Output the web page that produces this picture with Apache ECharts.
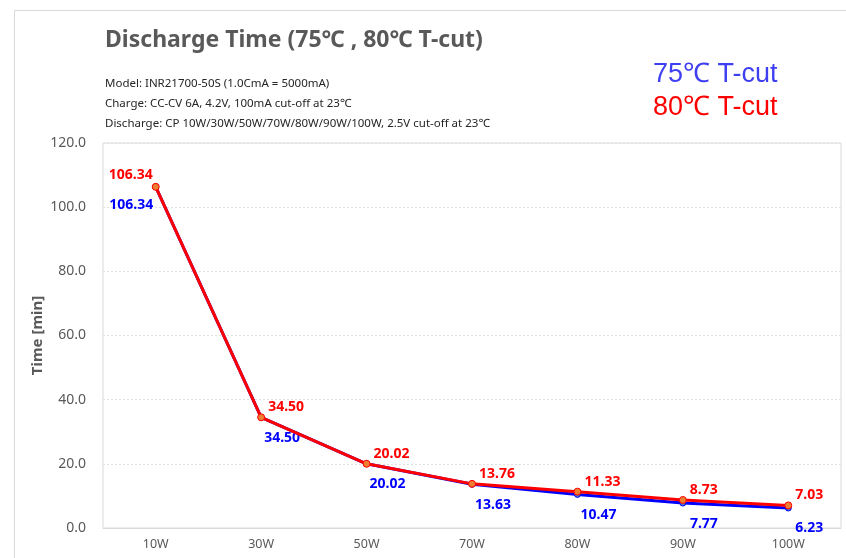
<!DOCTYPE html>
<html><head><meta charset="utf-8">
<script src="https://cdn.jsdelivr.net/npm/echarts@6/dist/echarts.min.js"></script>
<style>html,body{margin:0;padding:0;background:#fff}#c{width:846px;height:558px}</style>
</head><body><div id="c"></div>
<script>
const categories = ['10W','30W','50W','70W','80W','90W','100W'];
const t75 = [106.34, 34.50, 20.02, 13.63, 10.47, 7.77, 6.23];
const t80 = [106.34, 34.50, 20.02, 13.76, 11.33, 8.73, 7.03];
const yTicks = [0, 20, 40, 60, 80, 100, 120];
const titleText = 'Discharge Time (75℃ , 80℃ T-cut)';
const subLines = ['Model: INR21700-50S (1.0CmA = 5000mA)', 'Charge: CC-CV 6A, 4.2V, 100mA cut-off at 23℃', 'Discharge: CP 10W/30W/50W/70W/80W/90W/100W, 2.5V cut-off at 23℃'];
const legendNames = ['75℃ T-cut', '80℃ T-cut'];

const FONT = '"Noto Sans","Noto Sans CJK KR",sans-serif';
const chart = echarts.init(document.getElementById('c'), null, {renderer:'canvas'});

function labelFor(i, isRed){
  if (i === 0) {
    return isRed ? {position:'left', offset:[6,-12]} : {position:'left', offset:[6,18]};
  }
  return isRed ? {position:'right', offset:[-2,-10]} : {position:'bottom', offset:[21,5]};
}
const mkData = (arr, isRed) => arr.map((v,i)=>({value:v, label:labelFor(i,isRed)}));

chart.setOption({
  animation:false,
  graphic:[
    {type:'rect', left:12, top:8, shape:{width:900, height:600}, style:{fill:'none', stroke:'#d9d9d9', lineWidth:1}, silent:true},
    {type:'text', left:105, top:29, style:{text:titleText, font:'bold 23px '+FONT, fill:'#595959'}},
    {type:'text', left:105, top:78, style:{text:subLines[0], font:'11.5px '+FONT, fill:'#262626'}},
    {type:'text', left:105, top:98, style:{text:subLines[1], font:'11.5px '+FONT, fill:'#262626'}},
    {type:'text', left:105, top:118, style:{text:subLines[2], font:'11.5px '+FONT, fill:'#262626'}},
    {type:'text', left:653, top:61, style:{text:legendNames[0], font:'27px "Liberation Sans",Arial,sans-serif', fill:'#3f3ff2'}},
    {type:'text', left:653, top:94, style:{text:legendNames[1], font:'27px "Liberation Sans",Arial,sans-serif', fill:'#ff0000'}}
  ],
  grid:{left:103, right:5, top:143, bottom:30, show:true, borderColor:'#d9d9d9', borderWidth:1},
  xAxis:{type:'category', data:categories, boundaryGap:true,
    axisLine:{lineStyle:{color:'#d9d9d9'}}, axisTick:{show:false},
    axisLabel:{color:'#595959', fontSize:12.5, fontFamily:FONT, margin:10}},
  yAxis:{type:'value', min:yTicks[0], max:yTicks[yTicks.length-1], interval:20,
    name:'Time [min]', nameLocation:'middle', nameGap:58, nameRotate:90, nameMoveOverlap:false,
    nameTextStyle:{color:'#595959', fontSize:15, fontWeight:'bold', fontFamily:FONT},
    axisLine:{show:false}, axisTick:{show:false},
    axisLabel:{color:'#595959', fontSize:14, fontFamily:FONT, margin:17, formatter:v=>v.toFixed(1)},
    splitLine:{lineStyle:{color:'#e0e0e0', type:[2,2]}}},
  series:[
    {name:legendNames[0], type:'line', data:mkData(t75,false), z:2,
     lineStyle:{color:'#0000ff', width:3}, symbol:'circle', symbolSize:6,
     itemStyle:{color:'#4472c4', borderColor:'#0000ff', borderWidth:1},
     label:{show:true, color:'#0000ff', fontWeight:'bold', fontSize:14, fontFamily:FONT, formatter:p=>p.value.toFixed(2)}},
    {name:legendNames[1], type:'line', data:mkData(t80,true), z:3,
     lineStyle:{color:'#ff0000', width:3}, symbol:'circle', symbolSize:7,
     itemStyle:{color:'#ed7d31', borderColor:'#ff0000', borderWidth:1},
     label:{show:true, color:'#ff0000', fontWeight:'bold', fontSize:14, fontFamily:FONT, formatter:p=>p.value.toFixed(2)}}
  ]
});
</script></body></html>
